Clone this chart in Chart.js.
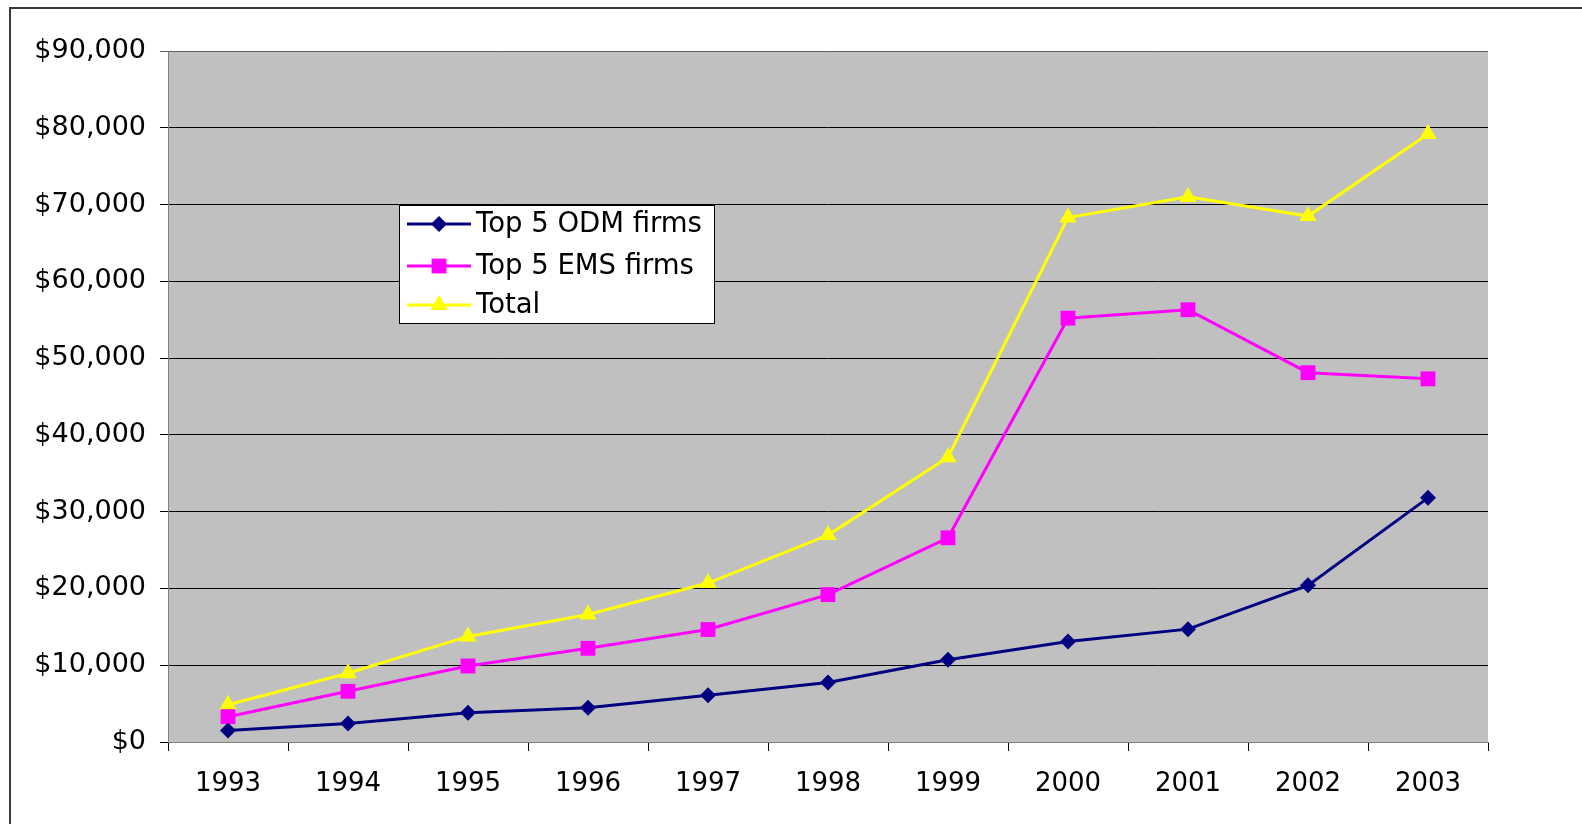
<!DOCTYPE html>
<html>
<head>
<meta charset="utf-8">
<script src="https://cdn.jsdelivr.net/npm/chart.js@4/dist/chart.umd.min.js"></script>
<style>
  html, body { margin: 0; padding: 0; background: #ffffff; }
  canvas { display: block; }
</style>
</head>
<body>
<canvas id="c" width="1582" height="824"></canvas>
<script>
const years = ['1993','1994','1995','1996','1997','1998','1999','2000','2001','2002','2003'];
const odmFirms = [1500, 2400, 3800, 4450, 6100, 7750, 10700, 13100, 14700, 20400, 31800];
const emsFirms = [3300, 6600, 9900, 12200, 14650, 19200, 26600, 55200, 56300, 48100, 47300];
const totalFirms = [4850, 8950, 13750, 16600, 20700, 26950, 37100, 68300, 71000, 68500, 79200];
const yTickLabels = ['$0','$10,000','$20,000','$30,000','$40,000','$50,000','$60,000','$70,000','$80,000','$90,000'];
const seriesNames = ['Top 5 ODM firms', 'Top 5 EMS firms', 'Total'];

const FONT = 'DejaVu Sans';

const plotBg = {
  id: 'plotBg',
  beforeDraw(chart) {
    const { ctx, chartArea: a } = chart;
    ctx.save();
    ctx.fillStyle = '#3a3a3a';
    ctx.fillRect(9, 7, 1582 - 9, 2);
    ctx.fillRect(9, 7, 2, 824 - 7);
    ctx.fillStyle = '#c0c0c0';
    ctx.fillRect(a.left, a.top, a.right - a.left, a.bottom - a.top);
    ctx.restore();
  }
};

const boxLegend = {
  id: 'boxLegend',
  afterDraw(chart) {
    const { ctx } = chart;
    const x0 = 399, y0 = 205, w = 315, h = 118;
    ctx.save();
    ctx.fillStyle = '#ffffff';
    ctx.fillRect(x0, y0, w, h);
    ctx.strokeStyle = '#000000';
    ctx.lineWidth = 1;
    ctx.strokeRect(x0 + 0.5, y0 + 0.5, w, h);
    const rows = [224, 266, 305];
    chart.data.datasets.forEach((ds, i) => {
      const cy = rows[i];
      ctx.strokeStyle = ds.borderColor;
      ctx.lineWidth = 3;
      ctx.beginPath();
      ctx.moveTo(407, cy);
      ctx.lineTo(471, cy);
      ctx.stroke();
      ctx.fillStyle = ds.pointBackgroundColor;
      Chart.helpers.drawPoint(ctx, {
        pointStyle: ds.pointStyle,
        radius: ds.pointRadius,
        borderWidth: 0,
        rotation: 0
      }, 439, cy);
      ctx.fillStyle = '#000000';
      ctx.font = '27.5px "' + FONT + '"';
      ctx.textBaseline = 'middle';
      ctx.textAlign = 'left';
      ctx.fillText(ds.label, 476, cy + 1);
    });
    ctx.restore();
  }
};

const mkDs = (label, data, color, style, r) => ({
  label, data,
  borderColor: color,
  backgroundColor: color,
  pointBackgroundColor: color,
  pointBorderColor: color,
  pointBorderWidth: 0,
  pointStyle: style,
  pointRadius: r,
  pointHoverRadius: r,
  borderWidth: 3,
  tension: 0,
  clip: false
});

new Chart(document.getElementById('c'), {
  type: 'line',
  data: {
    labels: years,
    datasets: [
      mkDs(seriesNames[0], odmFirms, '#000080', 'rectRot', 8),
      mkDs(seriesNames[1], emsFirms, '#ff00ff', 'rect', 10.5),
      mkDs(seriesNames[2], totalFirms, '#ffff00', 'triangle', 10)
    ]
  },
  options: {
    responsive: false,
    animation: false,
    devicePixelRatio: 1,
    layout: { padding: { left: 0, top: 51, right: 94, bottom: 0 } },
    plugins: { legend: { display: false }, tooltip: { enabled: false } },
    scales: {
      x: {
        offset: true,
        afterFit(s) { s.height = 82; },
        grid: {
          offset: true,
          drawOnChartArea: false,
          drawTicks: true,
          tickLength: 9,
          color: '#000000',
          lineWidth: 1
        },
        border: { color: '#808080', width: 1 },
        ticks: {
          color: '#000000',
          font: { family: FONT, size: 26 },
          padding: 18,
          maxRotation: 0,
          autoSkip: false
        }
      },
      y: {
        min: 0,
        max: 90000,
        afterFit(s) { s.width = 168; },
        grid: {
          color: (c) => (c.index === 9 ? '#606060' : '#000000'),
          lineWidth: 1,
          tickLength: 8,
          drawTicks: true
        },
        border: { color: '#808080', width: 1 },
        ticks: {
          stepSize: 10000,
          color: '#000000',
          font: { family: FONT, size: 27 },
          padding: 14,
          callback: (v, i) => yTickLabels[i]
        }
      }
    }
  },
  plugins: [plotBg, boxLegend]
});
</script>
</body>
</html>
